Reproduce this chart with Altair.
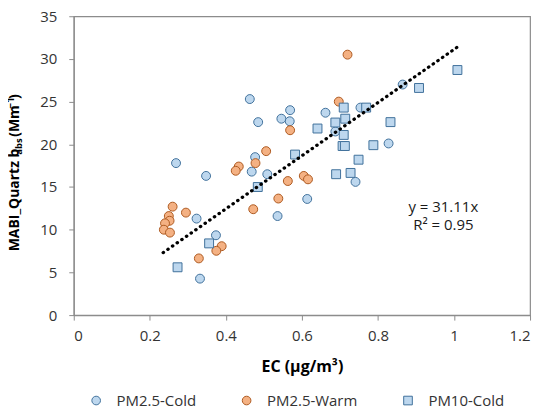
import altair as alt
import pandas as pd

series_names = ["PM2.5-Cold", "PM2.5-Warm", "PM10-Cold"]

cold_x = [0.463, 0.485, 0.546, 0.569, 0.568, 0.477, 0.468, 0.509, 0.269, 0.348, 0.323,
          0.374, 0.332, 0.536, 0.614, 0.662, 0.754, 0.688, 0.865, 0.828, 0.741]
cold_y = [25.3, 22.6, 23.0, 24.0, 22.7, 18.5, 16.8, 16.5, 17.8, 16.3, 11.3,
          9.35, 4.27, 11.6, 13.6, 23.7, 24.3, 21.5, 27.0, 20.1, 15.6]

warm_x = [0.569, 0.506, 0.478, 0.434, 0.426, 0.605, 0.616, 0.563, 0.538, 0.472, 0.260,
          0.295, 0.250, 0.252, 0.240, 0.237, 0.253, 0.389, 0.375, 0.329, 0.720, 0.697]
warm_y = [21.65, 19.2, 17.8, 17.4, 16.9, 16.3, 15.9, 15.7, 13.65, 12.4, 12.7,
          12.0, 11.6, 11.05, 10.75, 10.0, 9.66, 8.07, 7.53, 6.64, 30.5, 25.0]

pm10_x = [0.582, 0.484, 0.356, 0.273, 1.009, 0.908, 0.769, 0.710, 0.714, 0.688,
          0.641, 0.833, 0.710, 0.707, 0.713, 0.788, 0.749, 0.690, 0.728]
pm10_y = [18.8, 15.0, 8.4, 5.6, 28.7, 26.6, 24.3, 24.3, 23.0, 22.55,
          21.85, 22.6, 21.1, 19.8, 19.8, 19.9, 18.2, 16.5, 16.65]

trend_x = [0.235, 1.01]
trend_y = [7.31, 31.42]

x_ticks = [0, 0.2, 0.4, 0.6, 0.8, 1.0, 1.2]
y_ticks = [0, 5, 10, 15, 20, 25, 30, 35]

eq_lines = ["y = 31.11x", "R² = 0.95"]
eq_x = [0.972, 0.972]
eq_y = [12.6, 10.55]

rows = []
for name, xs, ys in zip(series_names, [cold_x, warm_x, pm10_x], [cold_y, warm_y, pm10_y]):
    for a, b in zip(xs, ys):
        rows.append({"series": name, "ec": a, "babs": b})
pts = pd.DataFrame(rows)
trend = pd.DataFrame({"ec": trend_x, "babs": trend_y})
eq = pd.DataFrame({"ec": eq_x, "babs": eq_y, "label": eq_lines})

FONT = "Open Sans"

xscale = alt.Scale(domain=[0, 1.2], nice=False, zero=False)
yscale = alt.Scale(domain=[0, 35], nice=False, zero=False)

legend = alt.Legend(
    title=None, orient="none", direction="horizontal", legendX=15, legendY=378,
    labelFontSize=15, labelFont=FONT, labelColor="#333333", labelOffset=13,
    columnPadding=43, symbolSize=75, symbolStrokeWidth=1, padding=0,
)

points = alt.Chart(pts).mark_point(filled=True, size=80, opacity=1, fillOpacity=1, strokeWidth=1).encode(
    x=alt.X("ec:Q", scale=xscale,
            axis=alt.Axis(values=x_ticks, format="~g", title="EC (µg/m³)",
                          titleFontSize=16, titleFontWeight="bold", titleFont=FONT,
                          titlePadding=16)),
    y=alt.Y("babs:Q", scale=yscale,
            axis=alt.Axis(values=y_ticks, title=None, labelPadding=12)),
    fill=alt.Fill("series:N", scale=alt.Scale(domain=series_names,
                  range=["#bdd7ee", "#f4b183", "#bdd7ee"]), legend=legend),
    stroke=alt.Stroke("series:N", scale=alt.Scale(domain=series_names,
                      range=["#41719c", "#ae5a21", "#41719c"]), legend=legend),
    shape=alt.Shape("series:N", scale=alt.Scale(domain=series_names,
                    range=["circle", "circle", "square"]), legend=legend),
    order=alt.Order("order_idx:Q"),
).transform_window(order_idx="row_number()")

line = alt.Chart(trend).mark_line(color="black", strokeWidth=3.2, strokeDash=[0.5, 5.2],
                                  strokeCap="round").encode(
    x=alt.X("ec:Q", scale=xscale), y=alt.Y("babs:Q", scale=yscale))

eq_text = alt.Chart(eq).mark_text(font=FONT, fontSize=15, color="#1a1a1a",
                                  align="center", baseline="middle").encode(
    x=alt.X("ec:Q", scale=xscale), y=alt.Y("babs:Q", scale=yscale), text="label:N")

# y-axis title composed of pieces for subscript / superscript
TX = -55
def seg(txt, ypos, size, xoff=0):
    return alt.Chart(pd.DataFrame({"t": [txt]})).mark_text(
        font=FONT, fontSize=size, fontWeight="bold", angle=270, align="left",
        baseline="alphabetic", color="black").encode(
        text="t:N", x=alt.value(TX + xoff), y=alt.value(ypos))

ytitle = [
    seg("MABI_Quartz b", 236, 14),
    seg("abs", 139, 9.5, 3),
    seg("(Mm", 121, 14),
    seg("−1", 92.5, 10, -5),
    seg(")", 83, 14),
]

chart = alt.layer(points, line, eq_text, *ytitle).properties(
    width=458, height=300,
    autosize=alt.AutoSizeParams(type="none"),
    padding={"left": 66, "top": 7.5, "right": 12, "bottom": 98},
).configure_view(stroke="#8c8c8c", strokeWidth=1.2).configure_axis(
    grid=False, domainColor="#8c8c8c", tickColor="#8c8c8c", tickSize=5,
    labelFont=FONT, labelFontSize=15, labelColor="#333333", domainWidth=1.2,
).configure_axisX(labelPadding=8)

chart.save("out.html", embed_options={"renderer": "svg", "actions": False})
